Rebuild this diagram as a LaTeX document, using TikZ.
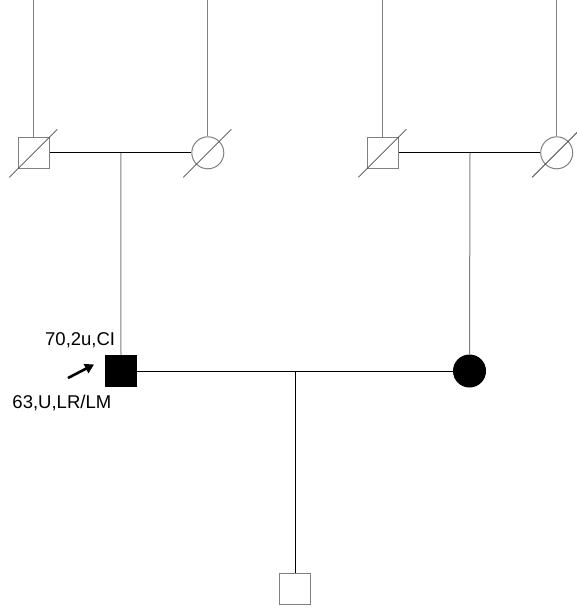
\documentclass[tikz,border=0pt]{standalone}
\usepackage{fontspec}
\setmainfont{Liberation Sans}
\usetikzlibrary{arrows.meta}
\definecolor{vline}{HTML}{808080}
\begin{document}
\begin{tikzpicture}[x=1pt,y=-1pt,
  male/.style={draw=vline,line width=1pt,minimum size=31pt,inner sep=0pt,fill=white},
  female/.style={circle,draw=vline,line width=1pt,minimum size=32pt,inner sep=0pt,fill=white},
  affm/.style={male,fill=black,draw=black},
  afff/.style={female,fill=black,draw=black},
  hline/.style={draw=black,line width=1pt},
  vl/.style={draw=vline,line width=1pt},
  dead/.style={draw=black!70,line width=0.8pt},
  lbl/.style={font=\fontsize{18.5}{22}\selectfont,inner sep=0pt,anchor=base west}]
\useasboundingbox (0,0) rectangle (576,608);
% grandparents left
\node[male] (g1) at (33.8,152.8) {};
\node[female] (g2) at (207.8,152.8) {};
% grandparents right
\node[male] (g3) at (382.8,152.8) {};
\node[female] (g4) at (556.7,152.8) {};
% parents
\node[affm] (p1) at (121,371) {};
\node[afff] (p2) at (469.5,371) {};
% child
\node[male] (ch) at (295.3,589) {};
% top lines
\coordinate (t1) at (33.8,0);
\coordinate (t2) at (207.8,0);
\coordinate (t3) at (382.8,0);
\coordinate (t4) at (556.7,0);
\draw[vl] (t1) -- (g1.north);
\draw[vl] (t2) -- (g2.north);
\draw[vl] (t3) -- (g3.north);
\draw[vl] (t4) -- (g4.north);
% marriage lines
\draw[hline] (g1.east) -- (g2.west);
\draw[hline] (g3.east) -- (g4.west);
\draw[hline] (p1.east) -- (p2.west);
\coordinate (m1) at (120.8,152.8);
\coordinate (m2) at (470,152.8);
\coordinate (m3) at (295.3,371);
\draw[vl] (m1) -- (p1.north);
\draw[vl] (m2) -- (p2.north);
\draw[hline] (m3) -- (ch.north);
% deceased slashes
\foreach \n in {g1,g2,g3,g4}{
  \draw[dead] ([shift={(-24.5,24.5)}]\n.center) -- ([shift={(23.5,-23.5)}]\n.center);
}
% proband arrow
\coordinate (a0) at (68,378);
\coordinate (a1) at (94,364.5);
\draw[line width=2.6pt,-{Triangle[length=9pt,width=10pt]}] (a0) -- (a1);
% labels
\node[lbl] (l1) at (45,345) {70,2u,CI};
\node[lbl] (l2) at (12.3,408.3) {63,U,LR/LM};
\end{tikzpicture}
\end{document}
